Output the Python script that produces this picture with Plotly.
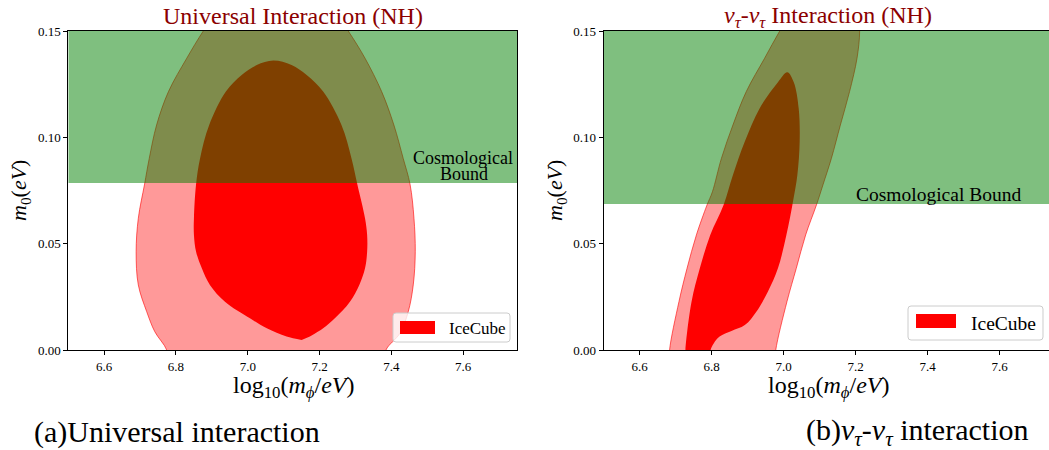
import plotly.graph_objects as go

# ---------------- data ----------------
# Left panel: Universal interaction (NH) -- contour outlines (x = log10(m_phi/eV), y = m0 in eV)
uni_outer_x = [6.777, 6.774, 6.741, 6.7185, 6.695, 6.689, 6.695, 6.7125, 6.7255, 6.746, 6.779, 6.830, 6.876,
               6.930, 7.078, 7.227, 7.280, 7.3266, 7.373, 7.407, 7.433, 7.452, 7.463, 7.4666, 7.461,
               7.447, 7.4245, 7.385, 7.382]
uni_outer_y = [-0.006, 0.0, 0.0086, 0.018, 0.0306, 0.0462, 0.0619, 0.078, 0.0901, 0.1058, 0.1215, 0.1372, 0.150,
               0.163, 0.175, 0.163, 0.150, 0.1372, 0.1215, 0.1058, 0.0901, 0.078, 0.0619, 0.0462, 0.0306,
               0.018, 0.008, 0.0, -0.006]
uni_inner_x = [7.150, 7.108, 7.053, 7.006, 6.9365, 6.8945, 6.872, 6.856, 6.850, 6.850, 6.856, 6.867, 6.8925, 6.939,
               6.983, 7.025, 7.071, 7.122, 7.164, 7.210, 7.261, 7.289, 7.305, 7.3266, 7.3325, 7.3325, 7.3266,
               7.3107, 7.2846, 7.2425, 7.210, 7.173]
uni_inner_y = [0.0047, 0.0063, 0.0102, 0.0149, 0.0227, 0.0306, 0.0384, 0.0462, 0.0541, 0.0619, 0.078, 0.0901, 0.1058,
               0.1215, 0.1293, 0.134, 0.1361, 0.134, 0.1293, 0.1215, 0.1058, 0.0901, 0.078, 0.0619, 0.0541, 0.0462,
               0.0384, 0.0306, 0.0227, 0.0149, 0.0102, 0.0063]
uni_bound = 0.0785

# Right panel: nu_tau - nu_tau interaction (NH)
tau_outer_x = [6.683, 6.683, 6.709, 6.7315, 6.7575, 6.787, 6.802, 6.827, 6.859, 6.896, 6.947, 6.989, 7.04, 7.13,
               7.205, 7.211, 7.2037, 7.183, 7.1575, 7.1325, 7.109, 7.091, 7.061, 7.035, 7.009, 6.978, 6.976]
tau_outer_y = [-0.006, 0.0, 0.0227, 0.0384, 0.0541, 0.0682, 0.0744, 0.0901, 0.1058, 0.1215, 0.1372, 0.150, 0.164, 0.172,
               0.163, 0.150, 0.1372, 0.1215, 0.1058, 0.0901, 0.0776, 0.0682, 0.0541, 0.0384, 0.0227, 0.0, -0.006]
tau_inner_x = [6.727, 6.727, 6.744, 6.767, 6.796, 6.833, 6.859, 6.892, 6.933, 6.984, 7.010, 7.028, 7.0417,
               7.0444, 7.038, 7.026, 7.0075, 6.984, 6.956, 6.924, 6.892, 6.855, 6.822, 6.8056, 6.797, 6.797]
tau_inner_y = [-0.004, 0.0, 0.0227, 0.0384, 0.0541, 0.0682, 0.0823, 0.098, 0.1136, 0.1259, 0.1306, 0.1259, 0.1136,
               0.098, 0.0823, 0.070, 0.0541, 0.0384, 0.0274, 0.018, 0.0117, 0.0089, 0.0063, 0.0031, 0.0, -0.004]
tau_bound = 0.0687

x_range_left = [6.5, 7.75]
x_range_right = [6.5, 7.737]
y_range = [0.0, 0.15]
x_ticks = [6.6, 6.8, 7.0, 7.2, 7.4, 7.6]
y_ticks = [0.00, 0.05, 0.10, 0.15]
legend_label = "IceCube"

FONT = "Liberation Serif, Times New Roman, Times, serif"
PINK = "rgba(255,0,0,0.4)"
RED = "#ff0000"
GREEN = "rgba(0,128,0,0.5)"

fig = go.Figure()


def add_panel(xa, ya, ox, oy, ix, iy, bound, xr):
    fig.add_trace(go.Scatter(x=ox, y=oy, xaxis=xa, yaxis=ya, mode="lines", fill="toself",
                             fillcolor=PINK, line=dict(color="rgba(255,0,0,0.6)", width=1, shape="spline", smoothing=1.0),
                             showlegend=False, hoverinfo="skip"))
    fig.add_trace(go.Scatter(x=ix, y=iy, xaxis=xa, yaxis=ya, mode="lines", fill="toself",
                             fillcolor=RED, line=dict(color=RED, width=0, shape="spline", smoothing=1.0),
                             name=legend_label, showlegend=False, hoverinfo="skip"))
    fig.add_trace(go.Scatter(x=[xr[0], xr[1], xr[1], xr[0], xr[0]],
                             y=[bound, bound, y_range[1], y_range[1], bound],
                             xaxis=xa, yaxis=ya, mode="lines", fill="toself", fillcolor=GREEN,
                             line=dict(width=0), showlegend=False, hoverinfo="skip"))


add_panel("x", "y", uni_outer_x, uni_outer_y, uni_inner_x, uni_inner_y, uni_bound, x_range_left)
add_panel("x2", "y2", tau_outer_x, tau_outer_y, tau_inner_x, tau_inner_y, tau_bound, x_range_right)

W, H = 1049, 450
ydom = [1 - 350 / H, 1 - 31 / H]

axis_common = dict(showline=True, linecolor="black", linewidth=1, mirror=True, ticks="outside",
                   ticklen=4, tickcolor="black", showgrid=False, zeroline=False, automargin=False,
                   tickfont=dict(family=FONT, size=13, color="black"))

fig.update_layout(
    template="none",
    width=W, height=H, margin=dict(l=0, r=0, t=0, b=0, pad=0), autosize=False,
    paper_bgcolor="white", plot_bgcolor="white", showlegend=False,
    font=dict(family=FONT, color="black"),
    xaxis=dict(domain=[68.3 / W, 517 / W], range=x_range_left, tickvals=x_ticks, tickformat=".1f", anchor="y", **axis_common),
    yaxis=dict(domain=ydom, range=y_range, tickvals=y_ticks, tickformat=".2f", anchor="x", **axis_common),
    xaxis2=dict(domain=[603.7 / W, 1.0], range=x_range_right, tickvals=x_ticks, tickformat=".1f", anchor="y2", **axis_common),
    yaxis2=dict(domain=ydom, range=y_range, tickvals=y_ticks, tickformat=".2f", anchor="x2", **axis_common),
)


# ---- legends drawn as boxes (pixel geometry -> paper coords) ----
def P(px, py):
    return px / W, 1 - py / H


def rrect_path(x0, y0, x1, y1, r):
    def s(px, py):
        X, Y = P(px, py)
        return f"{X:.5f},{Y:.5f}"
    return (f"M {s(x0 + r, y0)} L {s(x1 - r, y0)} Q {s(x1, y0)} {s(x1, y0 + r)} "
            f"L {s(x1, y1 - r)} Q {s(x1, y1)} {s(x1 - r, y1)} L {s(x0 + r, y1)} "
            f"Q {s(x0, y1)} {s(x0, y1 - r)} L {s(x0, y0 + r)} Q {s(x0, y0)} {s(x0 + r, y0)} Z")


shapes = []
ann = []


def A(text, x, y, size, color="black", xanchor="center", yanchor="middle", angle=0):
    ann.append(dict(text=text, x=x / W, y=1 - y / H, xref="paper", yref="paper", showarrow=False,
                    xanchor=xanchor, yanchor=yanchor, textangle=angle,
                    font=dict(family=FONT, size=size, color=color)))


def legend_box(bx0, by0, bx1, by1, patch, tx, ty, size):
    shapes.append(dict(type="path", path=rrect_path(bx0, by0, bx1, by1, 3), xref="paper", yref="paper",
                       fillcolor="rgba(255,255,255,0.8)", line=dict(color="#cccccc", width=1), layer="above"))
    px0, py0, px1, py1 = patch
    X0, Y0 = P(px0, py0)
    X1, Y1 = P(px1, py1)
    shapes.append(dict(type="rect", x0=X0, x1=X1, y0=Y1, y1=Y0, xref="paper", yref="paper",
                       fillcolor=RED, line=dict(width=0), layer="above"))
    A(legend_label, tx, ty, size, xanchor="left")


legend_box(393, 313, 510, 342, (400, 321, 435, 334), 447, 328, 17)
legend_box(908, 306, 1043, 340, (916, 314, 956, 328), 969, 323, 19.5)

A("Universal Interaction (NH)", 293, 16, 24, color="#8b0000")
A("<i>ν</i><sub><i>τ</i></sub>-<i>ν</i><sub><i>τ</i></sub> Interaction (NH)", 828, 17, 24, color="#8b0000")
A("log<sub>10</sub>(<i>m</i><sub><i>ϕ</i></sub>/<i>eV</i>)", 293, 387, 24)
A("log<sub>10</sub>(<i>m</i><sub><i>ϕ</i></sub>/<i>eV</i>)", 828, 387, 24)
A("<i>m</i><sub>0</sub>(<i>eV</i>)", 20, 191, 22, angle=-90)
A("<i>m</i><sub>0</sub>(<i>eV</i>)", 556, 191, 22, angle=-90)
A("Cosmological", 463, 158, 18)
A("Bound", 464, 174, 18)
A("Cosmological Bound", 938, 194, 19.5)
A("(a)Universal interaction", 32, 432, 30, xanchor="left")
A("(b)<i>ν</i><sub><i>τ</i></sub>-<i>ν</i><sub><i>τ</i></sub> interaction", 1030, 432, 30, xanchor="right")

fig.update_layout(annotations=ann, shapes=shapes)
fig.write_html("out.html")
